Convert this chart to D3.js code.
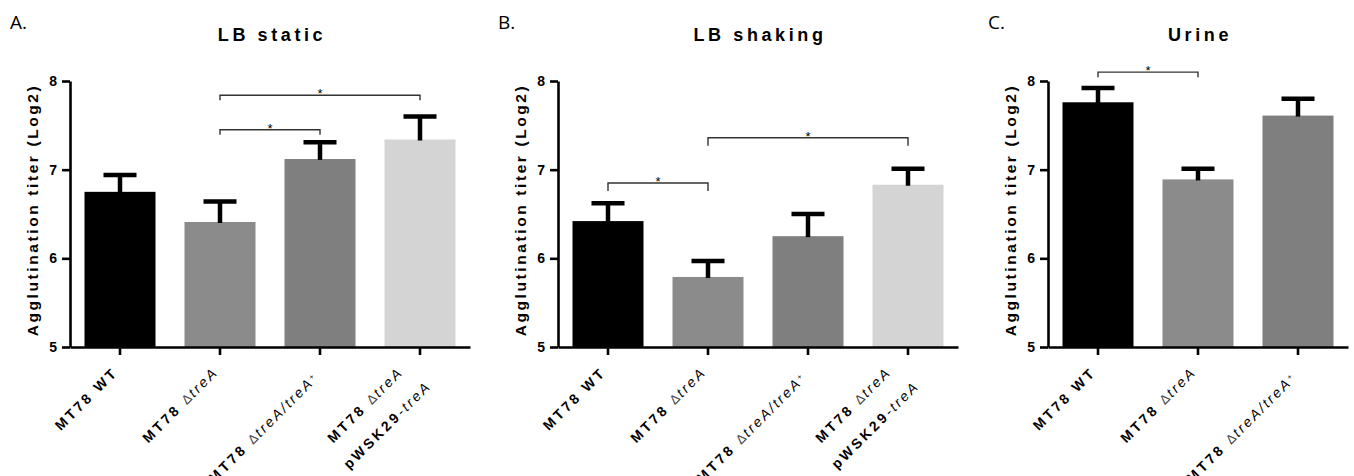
<!DOCTYPE html>
<html>
<head>
<meta charset="utf-8">
<script src="https://cdn.jsdelivr.net/npm/d3@7"></script>
<style>
  body { margin: 0; background: #fff; }
  text { font-family: "Liberation Sans", Arial, sans-serif; }
</style>
</head>
<body>
<svg width="1354" height="476"></svg>
<script>
// data
const panelLetters = ["A.", "B.", "C."]
const titles = ["LB static", "LB shaking", "Urine"]
const catsFour = ["wt", "del", "comp", "pwsk"]
const catsThree = ["wt", "del", "comp"]

const staticMeans = [6.75, 6.41, 7.12, 7.34]
const staticErrs = [0.19, 0.23, 0.19, 0.26]
const shakingMeans = [6.42, 5.79, 6.25, 6.83]
const shakingErrs = [0.2, 0.18, 0.25, 0.18]
const urineMeans = [7.76, 6.89, 7.61]
const urineErrs = [0.16, 0.12, 0.19]

// significance brackets: [from, to, level]
const staticSig = [[1, 2, 7.45], [1, 3, 7.84]]
const shakingSig = [[0, 1, 6.85], [1, 3, 7.36]]
const urineSig = [[0, 1, 8.1]]

const yTicks = [5, 6, 7, 8]
const yLabel = "Agglutination titer (Log2)"

const barColors = { wt: "#000000", del: "#8b8b8b", comp: "#7f7f7f", pwsk: "#d4d4d4" }

// tick label pieces (b = bold, i = italic, sup = superscript)
const tickLabels = {
	wt: [[{ t: "MT78 WT", b: 1 }]],
	del: [[{ t: "MT78 ", b: 1 }, { t: "Δ" }, { t: "treA", i: 1 }]],
	comp: [[{ t: "MT78 ", b: 1 }, { t: "Δ" }, { t: "treA/treA", i: 1 }, { t: "+", sup: 1 }]],
	pwsk: [
		[{ t: "MT78 ", b: 1 }, { t: "Δ" }, { t: "treA", i: 1 }],
		[{ t: "pWSK29", b: 1 }, { t: "-treA", i: 1 }]
	]
}

const panels = [
	{ cats: catsFour, means: staticMeans, errs: staticErrs, sig: staticSig, left: 70, drop: 5 },
	{ cats: catsFour, means: shakingMeans, errs: shakingErrs, sig: shakingSig, left: 558, drop: 8 },
	{ cats: catsThree, means: urineMeans, errs: urineErrs, sig: urineSig, left: 1048, drop: 5 }
]

const svg = d3.select("svg")
const plotTop = 81, plotBottom = 347

const y = d3.scaleLinear().domain([5, 8]).range([plotBottom, plotTop])

panels.forEach((p, k) => {
	const g = svg.append("g")
	const x = d3.scaleBand()
		.domain(p.cats)
		.range([p.left, p.left + 100 * p.cats.length])
		.paddingInner(0.29)
		.paddingOuter(0.145)
	const cx = (c) => x(c) + x.bandwidth() / 2
	const midX = p.left + 50 * p.cats.length

	g.append("text")
		.attr("x", p.left - 60)
		.attr("y", 29)
		.style("font-family", "'Open Sans', 'DejaVu Sans', sans-serif")
		.style("font-size", "19px")
		.text(panelLetters[k])

	g.append("text")
		.attr("x", midX + 2)
		.attr("y", 41)
		.attr("text-anchor", "middle")
		.style("font-size", "18px")
		.style("font-weight", "bold")
		.style("letter-spacing", "3.6px")
		.text(titles[k])

	g.append("text")
		.attr("transform", `translate(${p.left - 32}, ${(plotTop + plotBottom) / 2 - 4}) rotate(-90)`)
		.attr("text-anchor", "middle")
		.style("font-size", "15.5px")
		.style("font-weight", "bold")
		.style("letter-spacing", "2.6px")
		.text(yLabel)

	// bars
	g.selectAll("rect.bar").data(p.cats).enter().append("rect")
		.attr("x", (c) => x(c))
		.attr("width", x.bandwidth())
		.attr("y", (c, i) => y(p.means[i]))
		.attr("height", (c, i) => plotBottom - y(p.means[i]))
		.attr("fill", (c) => barColors[c])

	// error bars (upper only)
	const eb = g.selectAll("g.err").data(p.cats).enter().append("g")
		.attr("stroke", "#000").attr("stroke-width", 4.5)
	eb.append("line")
		.attr("x1", cx).attr("x2", cx)
		.attr("y1", (c, i) => y(p.means[i]) + 1)
		.attr("y2", (c, i) => y(p.means[i] + p.errs[i]))
	eb.append("line")
		.attr("x1", (c) => cx(c) - 16.5).attr("x2", (c) => cx(c) + 16.5)
		.attr("y1", (c, i) => y(p.means[i] + p.errs[i]))
		.attr("y2", (c, i) => y(p.means[i] + p.errs[i]))

	// axes
	const yAxis = g.append("g")
		.attr("transform", `translate(${p.left}, 0)`)
		.call(d3.axisLeft(y).tickValues(yTicks).tickFormat(d3.format("d")).tickSize(8).tickSizeOuter(0).tickPadding(5))
	const xAxis = g.append("g")
		.attr("transform", `translate(0, ${plotBottom})`)
		.call(d3.axisBottom(x).tickSize(8).tickSizeOuter(0).tickFormat(""))
	;[yAxis, xAxis].forEach((a) => {
		a.selectAll("path, line").attr("stroke", "#000").attr("stroke-width", 2.6)
	})
	yAxis.selectAll("text")
		.attr("fill", "#000")
		.style("font-size", "14px")
		.style("font-weight", "bold")
		.style("font-family", "'Liberation Sans', Arial, sans-serif")

	// rotated tick labels
	p.cats.forEach((c) => {
		const lines = tickLabels[c]
		lines.forEach((segs, li) => {
			let ax = cx(c) - 1, ay = 373
			if (lines.length > 1) { ax = cx(c) - 16 + li * 28; ay = 373 + li * 14 }
			if (segs.some((s) => s.sup)) { ax += 1; ay += 5 }
			const t = g.append("text")
				.attr("transform", `translate(${ax}, ${ay}) rotate(-45)`)
				.attr("text-anchor", "end")
				.style("font-size", "14px")
				.style("letter-spacing", "3px")
			segs.forEach((s) => {
				const ts = t.append("tspan").text(s.t)
				if (s.b) ts.style("font-weight", "bold")
				if (s.i) ts.style("font-style", "italic").style("letter-spacing", "2.4px")
				if (!s.b && !s.i && !s.sup) ts.style("font-size", "13px").style("letter-spacing", "1.5px").attr("fill", "#444")
				if (s.sup) ts.attr("baseline-shift", "super").style("font-size", "8px")
			})
		})
	})

	// significance brackets
	p.sig.forEach(([a, b, lvl]) => {
		const x1 = cx(p.cats[a]), x2 = cx(p.cats[b]), yy = y(lvl)
		g.append("path")
			.attr("d", `M${x1},${yy + p.drop}V${yy}H${x2}V${yy + p.drop}`)
			.attr("fill", "none")
			.attr("stroke", "#333")
			.attr("stroke-width", 1.4)
		g.append("text")
			.attr("x", (x1 + x2) / 2)
			.attr("y", yy + 3)
			.attr("text-anchor", "middle")
			.style("font-size", "13px")
			.text("*")
	})
})
</script>
</body>
</html>
